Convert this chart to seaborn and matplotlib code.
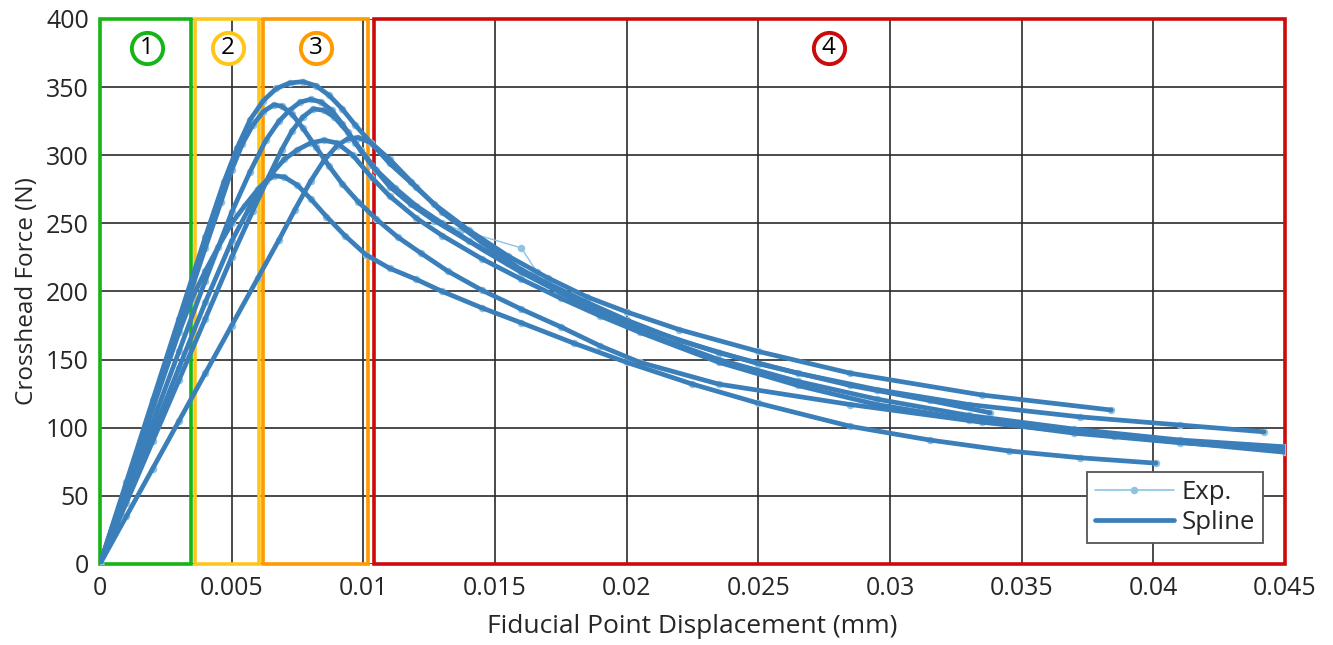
import matplotlib
matplotlib.use("Agg")
import matplotlib.pyplot as plt
from matplotlib.lines import Line2D
from matplotlib.patches import Rectangle
import seaborn as sns
import pandas as pd

# ---------------- data ----------------
x_ticks = [0, 0.005, 0.01, 0.015, 0.02, 0.025, 0.03, 0.035, 0.04, 0.045]
x_tick_labels = ["0", "0.005", "0.01", "0.015", "0.02", "0.025", "0.03", "0.035", "0.04", "0.045"]
y_ticks = [0, 50, 100, 150, 200, 250, 300, 350, 400]
y_tick_labels = ["0", "50", "100", "150", "200", "250", "300", "350", "400"]

# specimen A (peak ~354 N)
disp_a = [0, 0.001, 0.002, 0.003, 0.004, 0.0047, 0.0052, 0.0057, 0.0062, 0.0067, 0.0072, 0.0077,
          0.0082, 0.0087, 0.0092, 0.0097, 0.0103, 0.011, 0.0118, 0.0127, 0.014, 0.0155, 0.017,
          0.0185, 0.020, 0.022, 0.025, 0.0285, 0.0335, 0.0384]
force_a = [0, 60, 120, 180, 240, 280, 305, 326, 340, 349, 353, 354,
           351, 344, 334, 322, 309, 294, 280, 264, 245, 226, 210, 196, 185, 172, 156, 140, 124, 113]

# specimen B (peak ~337 N)
disp_b = [0, 0.001, 0.002, 0.003, 0.004, 0.0046, 0.005, 0.0054, 0.0058, 0.0062, 0.0066, 0.0069,
          0.0073, 0.0077, 0.0082, 0.0087, 0.0092, 0.0098, 0.0105, 0.0113, 0.0122, 0.0132, 0.0145,
          0.016, 0.0175, 0.019, 0.0205, 0.0235, 0.0285, 0.0335, 0.0385, 0.045]
force_b = [0, 58, 116, 174, 232, 266, 289, 308, 322, 332, 337, 336,
           330, 320, 306, 292, 279, 266, 253, 240, 228, 215, 201,
           187, 174, 160, 148, 132, 117, 104, 94, 82]

# specimen C (peak ~341 N)
disp_c = [0, 0.001, 0.002, 0.003, 0.004, 0.005, 0.0057, 0.0063, 0.0068, 0.0072, 0.0076, 0.008,
          0.0084, 0.0088, 0.0092, 0.0097, 0.0103, 0.011, 0.0118, 0.0127, 0.014, 0.0155, 0.017,
          0.0185, 0.020, 0.022, 0.025, 0.0285, 0.0315, 0.0338]
force_c = [0, 52, 104, 156, 208, 258, 288, 311, 325, 333, 339, 341,
           339, 333, 323, 309, 293, 277, 264, 252, 237, 221, 206, 192, 179, 164, 147, 131, 120, 111]

# specimen D (peak ~334 N)
disp_d = [0, 0.001, 0.002, 0.003, 0.004, 0.005, 0.0058, 0.0064, 0.0069, 0.0073, 0.0077, 0.0081,
          0.0085, 0.0089, 0.0094, 0.0099, 0.0105, 0.0112, 0.012, 0.013, 0.0145, 0.016, 0.0175,
          0.019, 0.0205, 0.0235, 0.0265, 0.0295, 0.033, 0.0372, 0.041, 0.0442]
force_d = [0, 45, 90, 135, 180, 225, 259, 284, 304, 318, 328, 334,
           333, 328, 317, 304, 289, 276, 263, 250, 231, 214, 199,
           186, 174, 155, 140, 128, 117, 108, 102, 97]
# measured points of specimen D (with the local bump near 0.016 mm)
exp_disp_d = disp_d[:20] + [0.0137, 0.0160, 0.0166] + disp_d[21:]
exp_force_d = force_d[:20] + [245, 232, 214] + force_d[21:]

# specimen E (peak ~311 N)
disp_e = [0, 0.001, 0.002, 0.003, 0.004, 0.005, 0.0058, 0.0065, 0.007, 0.0075, 0.008, 0.0085,
          0.009, 0.0096, 0.0103, 0.011, 0.012, 0.013, 0.0145, 0.016, 0.0175, 0.019, 0.0205,
          0.0235, 0.0265, 0.0295, 0.033, 0.037, 0.041, 0.045]
force_e = [0, 48, 96, 144, 192, 237, 266, 286, 297, 304, 309, 311,
           309, 300, 284, 270, 254, 241, 224, 209, 195, 182, 170, 148, 131, 117, 106, 96, 89, 84]

# specimen F (peak ~313 N)
disp_f = [0, 0.001, 0.002, 0.003, 0.004, 0.005, 0.006, 0.0068, 0.0074, 0.008, 0.0085, 0.009,
          0.0094, 0.0098, 0.0103, 0.011, 0.012, 0.013, 0.0145, 0.016, 0.0175, 0.019, 0.0205,
          0.0235, 0.0265, 0.0295, 0.033, 0.037, 0.041, 0.045]
force_f = [0, 35, 70, 105, 140, 175, 210, 238, 260, 281, 296, 307,
           312, 313, 309, 297, 277, 258, 236, 216, 199, 184, 171, 150, 134, 121, 109, 99, 91, 86]

# specimen G (peak ~285 N)
disp_g = [0, 0.001, 0.002, 0.003, 0.0035, 0.004, 0.0045, 0.005, 0.0055, 0.006, 0.0063, 0.0066,
          0.007, 0.0075, 0.008, 0.0086, 0.0093, 0.0101, 0.011, 0.012, 0.013, 0.0145, 0.016,
          0.018, 0.020, 0.0225, 0.025, 0.0285, 0.0315, 0.0345, 0.0372, 0.0401]
force_g = [0, 57, 114, 170, 195, 215, 233, 250, 263, 275, 281, 285,
           284, 278, 268, 255, 241, 227, 217, 209, 200, 188, 177,
           162, 148, 132, 118, 101, 91, 83, 78, 74]

specimens = {
    "A": (disp_a, force_a, disp_a, force_a),
    "B": (disp_b, force_b, disp_b, force_b),
    "C": (disp_c, force_c, disp_c, force_c),
    "D": (disp_d, force_d, exp_disp_d, exp_force_d),
    "E": (disp_e, force_e, disp_e, force_e),
    "F": (disp_f, force_f, disp_f, force_f),
    "G": (disp_g, force_g, disp_g, force_g),
}

# regions (displacement bounds) and labels
region_bounds = [(0.0000, 0.00345), (0.00362, 0.00604), (0.00619, 0.01018), (0.01040, 0.045)]
region_labels = ["1", "2", "3", "4"]
region_label_x = [0.00178, 0.00486, 0.0082, 0.02768]
region_label_y = 378.5

# ---------------- styles ----------------
region_colors = ["#14b514", "#ffc61a", "#ff9a00", "#cc0a0a"]
spline_color = "#3a7eba"
exp_color = "#8ec3e4"
grid_color = "#2b2b2b"
text_color = "#262626"

sns.set_theme(style="white")
plt.rcParams["font.family"] = ["Open Sans", "DejaVu Sans"]

spline_rows = []
exp_rows = []
for name, (sx, sy, ex, ey) in specimens.items():
    for xv, yv in zip(sx, sy):
        spline_rows.append({"specimen": name, "disp": xv, "force": yv})
    for xv, yv in zip(ex, ey):
        exp_rows.append({"specimen": name, "disp": xv, "force": yv})
spline_df = pd.DataFrame(spline_rows)
exp_df = pd.DataFrame(exp_rows)

fig = plt.figure(figsize=(13.33, 6.45), dpi=100)
ax = fig.add_axes([0.075, 0.1256, 0.889, 0.845])

ax.set_xlim(0, 0.045)
ax.set_ylim(0, 400)
ax.set_xticks(x_ticks)
ax.set_xticklabels(x_tick_labels)
ax.set_yticks(y_ticks)
ax.set_yticklabels(y_tick_labels)
ax.tick_params(axis="both", length=0, labelsize=18, colors=text_color)
ax.tick_params(axis="y", pad=8)
ax.tick_params(axis="x", pad=9)
ax.grid(True, color=grid_color, lw=1.2, zorder=0.5)
ax.set_axisbelow(True)
for s in ax.spines.values():
    s.set_visible(False)

# regions
for (x0, x1), col in zip(region_bounds, region_colors):
    ax.add_patch(Rectangle((x0, 0), x1 - x0, 400, fill=False, ec=col, lw=2.6,
                           zorder=1.5, clip_on=False))

sns.lineplot(data=exp_df, x="disp", y="force", units="specimen", estimator=None, sort=False,
             color=exp_color, lw=1.0, marker="o", markersize=5.4, markeredgewidth=0,
             ax=ax, zorder=2, legend=False)
sns.lineplot(data=spline_df, x="disp", y="force", units="specimen", estimator=None, sort=False,
             color=spline_color, lw=3.4, ax=ax, zorder=3, legend=False)

# numbered circles
for lx, lab, col in zip(region_label_x, region_labels, region_colors):
    ax.plot([lx], [region_label_y], marker="o", ms=22.5, mfc="white", mec=col, mew=2.8,
            zorder=5, clip_on=False)
    ax.text(lx, region_label_y, lab, ha="center", va="center", fontsize=17.5,
            color="black", zorder=6)

ax.set_xlabel("Fiducial Point Displacement (mm)", fontsize=19, color=text_color, labelpad=9)
ax.set_ylabel("Crosshead Force (N)", fontsize=17.5, color=text_color, labelpad=5)

handles = [
    Line2D([], [], color=exp_color, lw=1.2, marker="o", ms=5.4, markeredgewidth=0),
    Line2D([], [], color=spline_color, lw=3.4),
]
leg = ax.legend(handles, ["Exp.", "Spline"], loc="lower right",
                bbox_to_anchor=(0.9814, 0.0385), borderaxespad=0, fontsize=18.5,
                handlelength=3.1, handletextpad=0.3, frameon=True, fancybox=False, framealpha=1,
                edgecolor="#555555", numpoints=1, labelspacing=0.2, borderpad=0.3)
leg.get_frame().set_linewidth(1.3)
leg.set_zorder(10)
for t in leg.get_texts():
    t.set_color(text_color)

fig.savefig("out.png", dpi=100)
